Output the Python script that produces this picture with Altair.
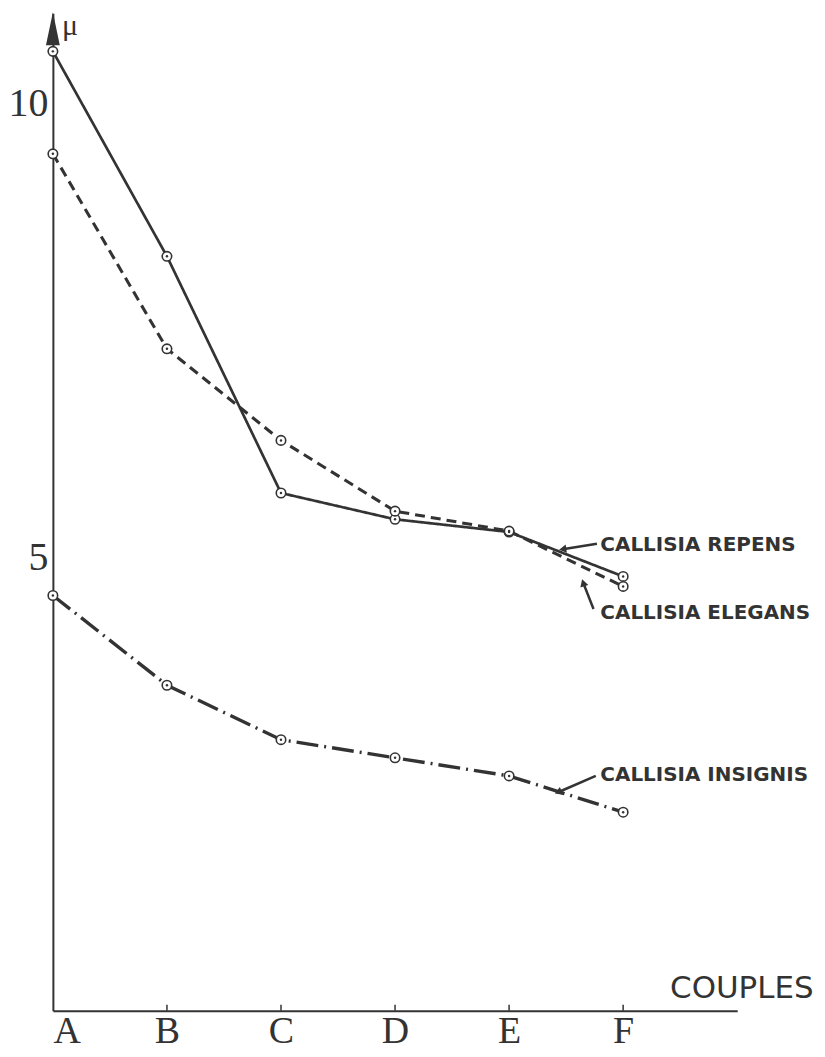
import altair as alt
import pandas as pd

# ---- data ----
couples = ["A", "B", "C", "D", "E", "F"]
x_index = [0, 1, 2, 3, 4, 5]
repens = [10.58, 8.32, 5.71, 5.42, 5.28, 4.79]      # solid line
elegans = [9.45, 7.30, 6.29, 5.51, 5.29, 4.68]     # dashed line
insignis = [4.58, 3.59, 2.99, 2.79, 2.59, 2.19]    # dash-dot line

series_names = ["Callisia repens", "Callisia elegans", "Callisia insignis"]
series_values = [repens, elegans, insignis]

label_texts = ["CALLISIA REPENS", "CALLISIA ELEGANS", "CALLISIA INSIGNIS"]
label_x = [4.80, 4.80, 4.80]
label_y = [5.14, 4.39, 2.60]
leader_x = [4.77, 4.74, 4.76]
leader_y = [5.15, 4.43, 2.59]
leader_x2 = [4.47, 4.65, 4.43]
leader_y2 = [5.09, 4.72, 2.41]
head_shapes = ["triangle-left", "triangle-up", "triangle-left"]
head_angles = [-8, -18, -22]

INK = "#333333"

rows = []
for name, vals in zip(series_names, series_values):
    for xi, c, v in zip(x_index, couples, vals):
        rows.append({"series": name, "x": xi, "couple": c, "value": v})
df = pd.DataFrame(rows)

labels_df = pd.DataFrame({"text": label_texts, "x": label_x, "y": label_y})
leaders_df = pd.DataFrame({"x": leader_x, "y": leader_y, "x2": leader_x2, "y2": leader_y2,
                           "shape": head_shapes, "angle": head_angles})
ticks_df = pd.DataFrame({"x": x_index[1:]})

xscale = alt.Scale(domain=[0, 6], nice=False, zero=False)
yscale = alt.Scale(domain=[0, 11], nice=False, zero=False)

label_expr = "['A','B','C','D','E','F'][datum.value]"

base = alt.Chart(df)

lines = base.mark_line(color=INK).encode(
    x=alt.X("x:Q", scale=xscale,
            axis=alt.Axis(values=x_index, labelExpr=label_expr, title=None, ticks=False,
                          grid=False, domainColor=INK, domainWidth=2,
                          labelFont="Liberation Serif", labelFontSize=38,
                          labelColor=INK, labelPadding=2)),
    y=alt.Y("value:Q", scale=yscale,
            axis=alt.Axis(values=[5, 10], format="d", title=None, ticks=False, grid=False,
                          domainColor=INK, domainWidth=2,
                          labelFont="Liberation Serif", labelFontSize=40,
                          labelColor=INK, labelPadding=5)),
    detail="series:N",
    strokeDash=alt.StrokeDash("series:N",
                              scale=alt.Scale(domain=series_names,
                                              range=[[1, 0], [10, 6], [22, 6, 2, 6]]),
                              legend=None),
    strokeWidth=alt.StrokeWidth("series:N",
                                scale=alt.Scale(domain=series_names,
                                                range=[2.7, 3.4, 3.2]),
                                legend=None),
)

circles = base.mark_point(filled=True, fill="white", stroke=INK, strokeWidth=1.6,
                          size=90, shape="circle", opacity=1).encode(
    x=alt.X("x:Q", scale=xscale), y=alt.Y("value:Q", scale=yscale))
dots = base.mark_point(filled=True, color=INK, size=6, shape="circle", opacity=1).encode(
    x=alt.X("x:Q", scale=xscale), y=alt.Y("value:Q", scale=yscale))

ticks = alt.Chart(ticks_df).mark_rule(color=INK, strokeWidth=1.5).encode(
    x=alt.X("x:Q", scale=xscale), y=alt.value(994), y2=alt.value(1000))

arrow_df = pd.DataFrame({"x": [0], "y": [10.83]})
arrow = alt.Chart(arrow_df).mark_point(
    filled=True, color=INK, opacity=1, size=1089,
    shape="M0,-1L0.42,1L-0.42,1Z").encode(
    x=alt.X("x:Q", scale=xscale), y=alt.Y("y:Q", scale=yscale))

mu_df = pd.DataFrame({"x": [0.08], "y": [11.02], "t": ["μ"]})
mu = alt.Chart(mu_df).mark_text(font="Liberation Serif", fontSize=30, align="left",
                                baseline="top", color=INK).encode(
    x=alt.X("x:Q", scale=xscale), y=alt.Y("y:Q", scale=yscale), text="t:N")

couples_df = pd.DataFrame({"x": [6.67], "y": [0.24], "t": ["COUPLES"]})
couples_txt = alt.Chart(couples_df).mark_text(font="DejaVu Sans", fontSize=31, align="right",
                                              baseline="middle", color=INK).encode(
    x=alt.X("x:Q", scale=xscale), y=alt.Y("y:Q", scale=yscale), text="t:N")

labels = alt.Chart(labels_df).mark_text(font="DejaVu Sans", fontSize=20, fontWeight="bold",
                                        align="left", baseline="middle", color=INK).encode(
    x=alt.X("x:Q", scale=xscale), y=alt.Y("y:Q", scale=yscale), text="text:N")

leaders = alt.Chart(leaders_df).mark_rule(color=INK, strokeWidth=2.5).encode(
    x=alt.X("x:Q", scale=xscale), y=alt.Y("y:Q", scale=yscale),
    x2="x2:Q", y2="y2:Q")

heads = alt.Chart(leaders_df).mark_point(filled=True, color=INK, opacity=1, size=70).encode(
    x=alt.X("x2:Q", scale=xscale), y=alt.Y("y2:Q", scale=yscale),
    shape=alt.Shape("shape:N", scale=None), angle=alt.Angle("angle:Q", scale=None))

chart = alt.layer(lines, ticks, leaders, heads, circles, dots, arrow, mu, couples_txt,
                  labels).properties(
    width=686, height=1000,
    autosize=alt.AutoSizeParams(type="none"),
    padding={"left": 45, "top": 4, "right": 80, "bottom": 40},
    background="white",
).configure_view(stroke=None)

chart.save("out.html", embed_options={"renderer": "svg", "actions": False})
